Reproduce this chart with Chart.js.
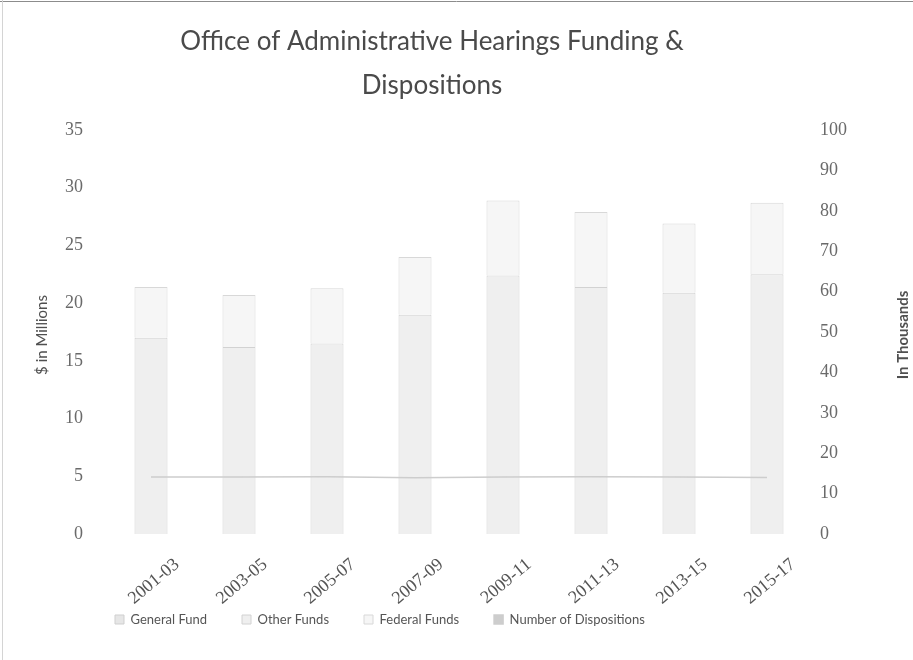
<!DOCTYPE html>
<html>
<head>
<meta charset="utf-8">
<script src="https://cdn.jsdelivr.net/npm/chart.js@4"></script>
<style>
  html, body { margin: 0; padding: 0; background: #fff; }
  #wrap { width: 913px; height: 660px; position: relative; }
</style>
</head>
<body>
<div id="wrap"><canvas id="fundingChart"></canvas></div>
<script>
// Values ($ in millions, dispositions in thousands)
const categories = ['2001-03', '2003-05', '2005-07', '2007-09', '2009-11', '2011-13', '2013-15', '2015-17'];
const generalFund = [0, 0, 0, 0, 0, 0, 0, 0];
const otherFunds = [17.0, 16.2, 16.5, 19.0, 22.4, 21.4, 20.9, 22.5];
const federalFunds = [4.4, 4.5, 4.8, 5.0, 6.5, 6.5, 6.0, 6.2];
const dispositions = [14.1, 14.1, 14.2, 13.9, 14.1, 14.2, 14.1, 14.0];
const millionTicks = [0, 5, 10, 15, 20, 25, 30, 35];
const thousandTicks = [0, 10, 20, 30, 40, 50, 60, 70, 80, 90, 100];

const tickFont = { family: '"Liberation Serif", serif', size: 18 };
const textFont = '"Lato", "Open Sans", sans-serif';

// background, frame, title and axis titles
const chartText = {
    id: 'chartText',
    afterLayout(chart) {
        // legend sits under the left part of the chart, as in the original
        chart.legend.left = 80;
        chart.legend.top = 578;
    },
    beforeDraw(chart) {
        const ctx = chart.ctx;
        ctx.save();
        ctx.fillStyle = '#fff';
        ctx.fillRect(0, 0, chart.width, chart.height);
        ctx.strokeStyle = '#8c8c8c';
        ctx.lineWidth = 1;
        ctx.beginPath();
        ctx.moveTo(0, 1.5);
        ctx.lineTo(chart.width, 1.5);
        ctx.stroke();
        ctx.strokeStyle = '#d4d4d4';
        ctx.beginPath();
        ctx.moveTo(2.5, 0);
        ctx.lineTo(2.5, chart.height);
        ctx.stroke();
        ctx.restore();
    },
    afterDraw(chart) {
        const ctx = chart.ctx;
        ctx.save();
        ctx.fillStyle = '#4a4a4a';
        ctx.textAlign = 'center';
        ctx.textBaseline = 'middle';
        ctx.font = '26px ' + textFont;
        ctx.fillText('Office of Administrative Hearings Funding &', 432, 42);
        ctx.fillText('Dispositions', 432, 86);

        ctx.font = '15px ' + textFont;
        ctx.fillStyle = '#505050';
        ctx.translate(42, 335);
        ctx.rotate(-Math.PI / 2);
        ctx.fillText('$ in Millions', 0, 0);
        ctx.restore();

        ctx.save();
        ctx.font = 'bold 15px ' + textFont;
        ctx.fillStyle = '#505050';
        ctx.textAlign = 'center';
        ctx.textBaseline = 'middle';
        ctx.translate(903, 335);
        ctx.rotate(-Math.PI / 2);
        ctx.fillText('In Thousands', 0, 0);
        ctx.restore();
    }
};

const ctx = document.getElementById('fundingChart');
new Chart(ctx, {
    type: 'bar',
    data: {
        labels: categories,
        datasets: [
            {
                label: 'General Fund',
                data: generalFund,
                backgroundColor: '#e6e6e6',
                borderColor: '#cfcfcf',
                borderWidth: 1,
                stack: 'funds',
                yAxisID: 'y',
                order: 2
            },
            {
                label: 'Other Funds',
                data: otherFunds,
                backgroundColor: '#efefef',
                borderColor: '#d2d2d2',
                borderWidth: 1,
                stack: 'funds',
                yAxisID: 'y',
                order: 2
            },
            {
                label: 'Federal Funds',
                data: federalFunds,
                backgroundColor: '#f6f6f6',
                borderColor: '#d8d8d8',
                borderWidth: 1,
                stack: 'funds',
                yAxisID: 'y',
                order: 2
            },
            {
                type: 'line',
                label: 'Number of Dispositions',
                data: dispositions,
                borderColor: '#cdcdcd',
                backgroundColor: '#cdcdcd',
                borderWidth: 1.5,
                pointRadius: 0,
                tension: 0,
                yAxisID: 'y1',
                order: 1
            }
        ]
    },
    options: {
        responsive: true,
        maintainAspectRatio: false,
        animation: false,
        layout: {
            padding: { top: 130, left: 40, right: 0, bottom: 25 }
        },
        datasets: {
            bar: { barPercentage: 0.375, categoryPercentage: 1 }
        },
        plugins: {
            title: { display: false },
            tooltip: { enabled: false },
            legend: {
                position: 'bottom',
                align: 'start',
                maxHeight: 1,
                labels: {
                    color: '#555',
                    font: { family: textFont, size: 13 },
                    boxWidth: 9,
                    boxHeight: 9,
                    padding: 35,
                    sort: (a, b) => a.datasetIndex - b.datasetIndex
                }
            }
        },
        scales: {
            x: {
                stacked: true,
                grid: { display: false, drawTicks: false },
                border: { display: false },
                ticks: {
                    color: '#555',
                    font: tickFont,
                    minRotation: 40,
                    maxRotation: 40,
                    padding: 20,
                    labelOffset: 26
                },
                afterFit(scale) { scale.height = 100; }
            },
            y: {
                stacked: true,
                position: 'left',
                min: millionTicks[0],
                max: millionTicks[millionTicks.length - 1],
                afterBuildTicks(scale) {
                    scale.ticks = millionTicks.map(v => ({ value: v }));
                },
                grid: { display: false, drawTicks: false },
                border: { display: false },
                ticks: { color: '#6a6a6a', font: tickFont, padding: 24 },
                afterFit(scale) { scale.width = 67; }
            },
            y1: {
                position: 'right',
                min: thousandTicks[0],
                max: thousandTicks[thousandTicks.length - 1],
                afterBuildTicks(scale) {
                    scale.ticks = thousandTicks.map(v => ({ value: v }));
                },
                grid: { display: false, drawTicks: false },
                border: { display: false },
                ticks: { color: '#6a6a6a', font: tickFont, padding: 9 },
                afterFit(scale) { scale.width = 102; }
            }
        }
    },
    plugins: [chartText]
});
</script>
</body>
</html>
